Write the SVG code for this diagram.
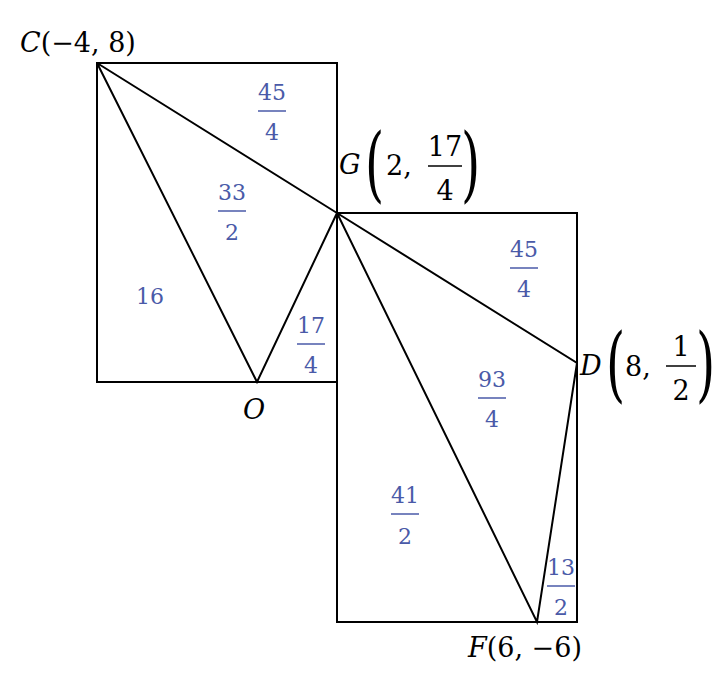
<svg xmlns="http://www.w3.org/2000/svg" width="720" height="700" viewBox="0 0 720 700">
<style>
.b{font-family:"DejaVu Serif","Liberation Serif",serif;font-size:22px;fill:#4a5aa8;text-anchor:middle}
.k{font-family:"DejaVu Serif","Liberation Serif",serif;font-size:27px;fill:#000}
.i{font-style:italic}
.fl{stroke:#4a5aa8;stroke-width:1.5}
.kl{stroke:#000;stroke-width:1.5}
.p{font-family:"DejaVu Serif","Liberation Serif",serif;font-size:82px;fill:#000;font-weight:200}
</style>
<rect width="720" height="700" fill="#fff"/>
<g id="connectors" fill="none" stroke="#000" stroke-width="2">
<rect x="97" y="63" width="240" height="319"/>
<rect x="337" y="213" width="240" height="409"/>
<path d="M97,63 L337,213 M97,63 L257,382 L337,213 M337,213 L577,363 L537,622 L337,213"/>
</g>
<g id="areas">
<text class="b" x="272" y="100">45</text><line class="fl" x1="258" y1="111" x2="286" y2="111"/><text class="b" x="272" y="140">4</text>
<text class="b" x="232" y="200">33</text><line class="fl" x1="218" y1="211" x2="246" y2="211"/><text class="b" x="232" y="240">2</text>
<text class="b" x="150" y="304">16</text>
<text class="b" x="311" y="333">17</text><line class="fl" x1="297" y1="344" x2="325" y2="344"/><text class="b" x="311" y="373">4</text>
<text class="b" x="524" y="257">45</text><line class="fl" x1="510" y1="268" x2="538" y2="268"/><text class="b" x="524" y="297">4</text>
<text class="b" x="492" y="387">93</text><line class="fl" x1="478" y1="398" x2="506" y2="398"/><text class="b" x="492" y="427">4</text>
<text class="b" x="405" y="503">41</text><line class="fl" x1="391" y1="514" x2="419" y2="514"/><text class="b" x="405" y="544">2</text>
<text class="b" x="561" y="575">13</text><line class="fl" x1="547" y1="586" x2="575" y2="586"/><text class="b" x="561" y="615">2</text>
</g>
<g id="C"><text class="k" x="20" y="52"><tspan class="i">C</tspan>(−4, 8)</text></g>
<g id="O"><text class="k i" x="243" y="419">O</text></g>
<g id="F"><text class="k" x="468" y="657"><tspan class="i">F</tspan>(6, −6)</text></g>
<g id="G">
<text class="k i" x="339" y="174">G</text>
<text class="p" x="365" y="192" transform="translate(365 192) scale(0.6 1) translate(-365 -192)">(</text>
<text class="k" x="386" y="175">2,</text>
<text class="k" x="445" y="156" text-anchor="middle">17</text><line class="kl" x1="428" y1="166" x2="462" y2="166"/><text class="k" x="445" y="200" text-anchor="middle">4</text>
<text class="p" x="461" y="192" transform="translate(461 192) scale(0.6 1) translate(-461 -192)">)</text>
</g>
<g id="D">
<text class="k i" x="580" y="375">D</text>
<text class="p" x="606" y="392" transform="translate(606 392) scale(0.6 1) translate(-606 -392)">(</text>
<text class="k" x="625" y="376">8,</text>
<text class="k" x="681" y="356" text-anchor="middle">1</text><line class="kl" x1="666" y1="366" x2="696" y2="366"/><text class="k" x="681" y="400" text-anchor="middle">2</text>
<text class="p" x="696" y="392" transform="translate(696 392) scale(0.6 1) translate(-696 -392)">)</text>
</g>
</svg>
